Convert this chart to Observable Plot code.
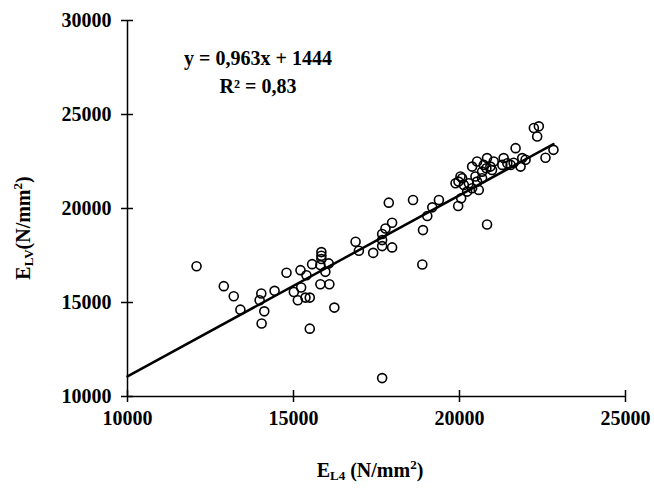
<!DOCTYPE html>
<html><head><meta charset="utf-8">
<script src="https://cdn.jsdelivr.net/npm/d3@7"></script>
<script src="https://cdn.jsdelivr.net/npm/@observablehq/plot@0.6"></script>
<style>
body{margin:0;background:#fff;}
#chart{position:relative;width:654px;height:489px;}
</style></head>
<body><div id="chart"></div>
<script>
// E_L4 (x) and E_LV (y), N/mm²
const xVals = [12080,12900,13200,13400,14030,13980,14430,14120,14040,14790,15210,15560,15390,15010,15230,15130,15360,15490,15490,15840,15840,15840,15810,16060,15960,15810,16080,16230,
16870,16970,17400,17670,17770,17970,17670,17670,17970,17870,18600,18900,18880,19030,19180,19380,17670,
19960,20050,20230,19970,20080,19880,20130,20030,20280,20380,20530,20580,20480,20680,20380,20530,20730,20680,20830,20810,20930,21030,20980,20830,21330,21290,21440,21890,21840,21690,21540,21630,21990,22240,22390,22340,22830,22590];
const yVals = [16930,15870,15330,14620,15480,15120,15620,14530,13880,16580,16720,17040,16450,15560,15800,15120,15260,15260,13610,17680,17490,17310,16990,17080,16630,15970,15970,14730,
18230,17750,17640,18640,18940,19240,18320,18000,17930,20310,20450,18850,17020,19600,20060,20450,10980,
20130,20540,20900,21430,21610,21340,21250,21700,21340,21080,21430,20990,21700,21610,22230,22500,22320,21960,22680,22140,22230,22500,22050,19150,22680,22320,22410,22680,22230,23210,22320,22430,22590,24280,24370,23830,23120,22700];
const xTicks = [10000,15000,20000,25000];
const yTicks = [10000,15000,20000,25000,30000];
const slope = 0.963, intercept = 1444;
const fitRange = [10000, 22830];
const eqLines = ["y = 0,963x + 1444", "R² = 0,83"];
const eqX = [13930, 13930];
const eqY = [27950, 26500];

const pts = xVals.map((x,i)=>({x, y:yVals[i]}));
const fit = fitRange.map(x=>({x, y: slope*x+intercept}));
const eq = eqLines.map((t,i)=>({t, x:eqX[i], y:eqY[i]}));

const font = "Liberation Serif, Times New Roman, serif";
const plot = Plot.plot({
  width: 654, height: 489,
  marginLeft: 127, marginRight: 29, marginTop: 20, marginBottom: 93,
  style: {fontFamily: font, fontSize: "20px", fontWeight: "bold", color: "#000", background: "#fff"},
  x: {domain: [10000, 25000]},
  y: {domain: [10000, 30000]},
  marks: [
    Plot.ruleX([10000], {stroke: "#000", strokeWidth: 1.5}),
    Plot.ruleY([10000], {stroke: "#000", strokeWidth: 1.5}),
    Plot.axisY({ticks: yTicks, tickSize: 12, dx: 6, text: null, label: null, strokeWidth: 1.5}),
    Plot.axisY({ticks: yTicks, tickSize: 0, tickPadding: 16, tickFormat: d=>String(d), label: null}),
    Plot.axisX({ticks: xTicks, tickSize: 12, dy: -6, text: null, label: null, strokeWidth: 1.5}),
    Plot.axisX({ticks: xTicks, tickSize: 0, tickPadding: 14, tickFormat: d=>String(d), label: null}),
    Plot.line(fit, {x: "x", y: "y", stroke: "#000", strokeWidth: 2.5}),
    Plot.dot(pts, {x: "x", y: "y", r: 4.5, stroke: "#000", strokeWidth: 1.6, fill: "none"}),
    Plot.text(eq, {x: "x", y: "y", text: "t", fontSize: 20, fontWeight: "bold", fill: "#000"})
  ]
});
document.getElementById("chart").appendChild(plot);
const svg = d3.select(plot);
// x-axis title
const xt = svg.append("text").attr("x", 370).attr("y", 477).attr("text-anchor", "middle")
  .style("font-family", font).style("font-size", "20px").style("font-weight", "bold");
xt.append("tspan").text("E");
xt.append("tspan").text("L4").attr("font-size", "13px").attr("dy", "3");
xt.append("tspan").text(" (N/mm").attr("dy", "-3");
xt.append("tspan").text("2").attr("font-size", "13px").attr("dy", "-8");
xt.append("tspan").text(")").attr("dy", "8");
// y-axis title
const yt = svg.append("text").attr("transform", "translate(30,228) rotate(-90)").attr("text-anchor", "middle")
  .style("font-family", font).style("font-size", "20px").style("font-weight", "bold");
yt.append("tspan").text("E");
yt.append("tspan").text("LV").attr("font-size", "13px").attr("dy", "3");
yt.append("tspan").text("(N/mm").attr("dy", "-3");
yt.append("tspan").text("2").attr("font-size", "13px").attr("dy", "-8");
yt.append("tspan").text(")").attr("dy", "8");
</script></body></html>
